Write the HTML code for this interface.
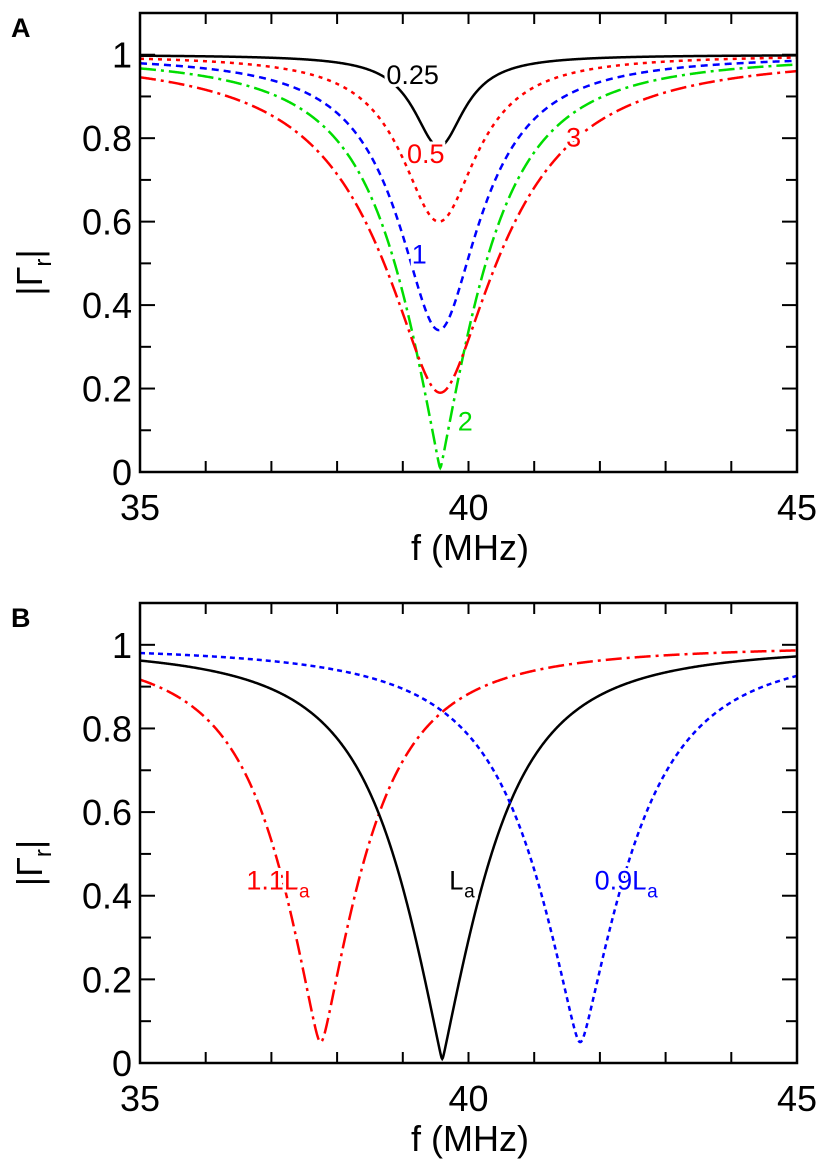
<!DOCTYPE html>
<html><head><meta charset="utf-8"><style>
body{margin:0;background:#fff;}
svg text{font-family:"Liberation Sans",Arial,sans-serif;}
</style></head><body>
<svg id="chart" width="827" height="1170" viewBox="0 0 827 1170" xmlns="http://www.w3.org/2000/svg">
<g id="panelA"></g>
<g id="panelB"></g>
</svg>
<script>
// Panel A data: resonance parameters per series
const seriesA_names = ["0.25","0.5","1","2","3"];
const seriesA_f0 = [39.55,39.55,39.55,39.57,39.57];
const seriesA_min = [0.78,0.60,0.34,0.01,0.19];
const seriesA_width = [0.5,0.8,1.0,1.2,1.6];
const seriesA_colors = ["#000","#f00","#00f","#0d0","#f00"];
const seriesA_dash = ["", "4,5", "7,5", "16,5,3,5", "16,5,3,5"];
const labelsA_pos = [[39.15,0.93],[39.35,0.74],[39.25,0.5],[39.95,0.1],[41.6,0.78]];
// Panel B data
const seriesB_names = ["1.1La","La","0.9La"];
const seriesB_f0 = [37.75,39.6,41.7];
const seriesB_min = [0.05,0.01,0.05];
const seriesB_width = [1.2,1.3,1.35];
const seriesB_colors = ["#f00","#000","#00f"];
const seriesB_dash = ["16,5,3,5","","5,4"];
const labelsB_pos = [[37.1,0.415],[39.9,0.415],[42.4,0.415]];
const xTicks = [35,40,45];
const yTicks = [0,0.2,0.4,0.6,0.8,1];

const NS="http://www.w3.org/2000/svg";
function mk(parent,tag,attrs){const e=document.createElementNS(NS,tag);for(const k in attrs)e.setAttribute(k,attrs[k]);parent.appendChild(e);return e;}
function gamma(f,f0,m,w){const d=(f-f0)/w;const g2=1-(1-m*m)/(1+d*d);return Math.sqrt(Math.max(0,g2));}

function panel(g,top,bottom,letter,names,f0s,mins,ws,cols,dashes,lpos){
  const L=140,R=797;
  const xs=f=>L+(f-35)/10*(R-L);
  const ys=v=>bottom-v/1.1*(bottom-top);
  const clipId="clip"+letter;
  const cp=mk(g,"clipPath",{id:clipId});mk(cp,"rect",{x:L,y:top,width:R-L,height:bottom-top});
  for(let i=0;i<names.length;i++){
    let d="";
    for(let f=35;f<=45.0001;f+=0.01){
      const v=gamma(f,f0s[i],mins[i],ws[i]);
      d+=(d?"L":"M")+xs(f).toFixed(2)+","+ys(v).toFixed(2);
    }
    const p=mk(g,"path",{d:d,fill:"none",stroke:cols[i],"stroke-width":2.5,"clip-path":"url(#"+clipId+")"});
    if(dashes[i])p.setAttribute("stroke-dasharray",dashes[i]);
    
    
  }
  for(let i=0;i<names.length;i++){
    const t=mk(g,"text",{x:xs(lpos[i][0]),y:ys(lpos[i][1]),fill:cols[i],"font-size":27,"text-anchor":"middle",stroke:"#fff","stroke-width":6,"paint-order":"stroke"});
    
    
    const n=names[i];
    if(n.endsWith("La")){
      t.appendChild(document.createTextNode(n.slice(0,-1)));
      const s=mk(t,"tspan",{"font-size":19,dy:8});s.textContent="a";
    } else t.textContent=n;
  }
  const fr=mk(g,"rect",{x:L,y:top,width:R-L,height:bottom-top,fill:"none",stroke:"#000","stroke-width":2.5});
  
  
  for(let f=36;f<45;f++){
    mk(g,"line",{x1:xs(f),x2:xs(f),y1:bottom,y2:bottom-11,stroke:"#000","stroke-width":2});
    mk(g,"line",{x1:xs(f),x2:xs(f),y1:top,y2:top+11,stroke:"#000","stroke-width":2});
  }
  for(let k=1;k<=10;k++){
    const len=(k%2==0)?15:11;
    mk(g,"line",{x1:L,x2:L+len,y1:ys(k/10),y2:ys(k/10),stroke:"#000","stroke-width":2});
    mk(g,"line",{x1:R,x2:R-len,y1:ys(k/10),y2:ys(k/10),stroke:"#000","stroke-width":2});
  }
  xTicks.forEach(v=>{const t=mk(g,"text",{x:xs(v),y:bottom+48,"font-size":36,"text-anchor":"middle"});t.textContent=v;
    });
  yTicks.forEach(v=>{const t=mk(g,"text",{x:L-8,y:ys(v)+13,"font-size":36,"text-anchor":"end"});t.textContent=(v===0||v===1)?String(v):v.toFixed(1);
    });
  const xt=mk(g,"text",{x:470,y:bottom+88,"font-size":36,"text-anchor":"middle"});xt.textContent="f (MHz)";
  
  const cy=(top+bottom)/2+30;
  const yt=mk(g,"text",{x:0,y:0,"font-size":36,"text-anchor":"middle",transform:"translate(42,"+cy+") rotate(-90)"});
  yt.appendChild(document.createTextNode("|Γ"));const sb=mk(yt,"tspan",{"font-size":24,dy:9});sb.textContent="r";
  const s2=mk(yt,"tspan",{dy:-9});s2.textContent="|";
  
  const pl=mk(g,"text",{x:11,y:top+24,"font-size":27,"font-weight":"bold"});pl.textContent=letter;
  
}
panel(document.getElementById("panelA"),13,472,"A",seriesA_names,seriesA_f0,seriesA_min,seriesA_width,seriesA_colors,seriesA_dash,labelsA_pos);
panel(document.getElementById("panelB"),603,1063,"B",seriesB_names,seriesB_f0,seriesB_min,seriesB_width,seriesB_colors,seriesB_dash,labelsB_pos);
</script>
</body></html>
